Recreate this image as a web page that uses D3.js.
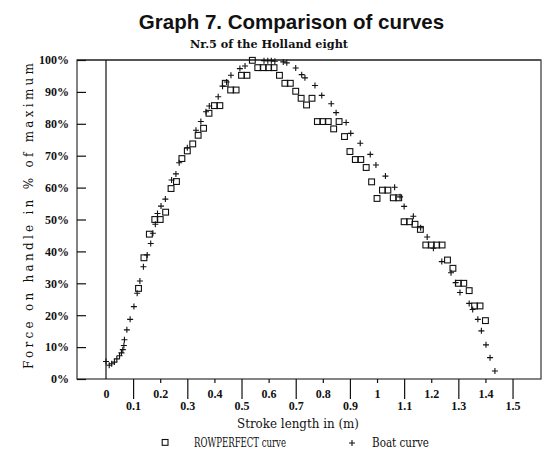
<!DOCTYPE html>
<html>
<head>
<meta charset="utf-8">
<script src="https://cdnjs.cloudflare.com/ajax/libs/d3/7.8.5/d3.min.js"></script>
<style>
  body { margin: 0; background: #fff; }
  svg { display: block; }
  .tick text { font-family: "Liberation Serif", serif; font-size: 12px; font-weight: bold; fill: #111; }
  .tick line { stroke: #111; }
  .mono { font-family: "DejaVu Serif", serif; fill: #111; }
</style>
</head>
<body>
<svg id="chart" width="551" height="458"></svg>
<script>
// ROWPERFECT curve: stroke length (m) and force in % of maximum
const rpLength = [0.12, 0.14, 0.16, 0.18, 0.20, 0.22, 0.24, 0.26, 0.28, 0.30,
  0.32, 0.34, 0.36, 0.38, 0.40, 0.42, 0.44, 0.46, 0.48, 0.50,
  0.52, 0.54, 0.56, 0.58, 0.60, 0.62, 0.64, 0.66, 0.68, 0.70,
  0.72, 0.74, 0.76, 0.78, 0.80, 0.82, 0.84, 0.86, 0.88, 0.90,
  0.92, 0.94, 0.96, 0.98, 1.00, 1.02, 1.04, 1.06, 1.08, 1.10,
  1.12, 1.14, 1.16, 1.18, 1.20, 1.22, 1.24, 1.26, 1.28, 1.30,
  1.32, 1.34, 1.36, 1.38, 1.40];
const rpForce = [28.4, 38.0, 45.4, 50.0, 50.0, 52.3, 59.7, 61.9, 69.1, 71.5,
  73.7, 76.4, 78.6, 83.3, 85.7, 85.7, 92.7, 90.6, 90.6, 95.2,
  95.2, 99.9, 97.6, 97.6, 97.6, 97.6, 95.2, 92.7, 92.7, 90.2,
  88.0, 85.9, 88.0, 80.7, 80.7, 80.7, 78.4, 80.7, 76.0, 71.3,
  68.8, 68.8, 66.3, 61.8, 56.6, 59.2, 59.2, 56.8, 56.8, 49.3,
  49.3, 48.5, 46.9, 42.0, 42.0, 42.0, 42.0, 37.3, 34.7, 30.0,
  30.0, 27.7, 22.9, 22.9, 18.3];

// Boat curve
const boatLength = [0.000, 0.012, 0.021, 0.031, 0.040, 0.050, 0.057, 0.062, 0.066, 0.068,
  0.077, 0.089, 0.103, 0.115, 0.125, 0.138, 0.152, 0.165, 0.173, 0.182,
  0.190, 0.203, 0.219, 0.242, 0.258, 0.270, 0.300, 0.332, 0.350, 0.369,
  0.381, 0.414, 0.430, 0.445, 0.461, 0.494, 0.513, 0.583, 0.597, 0.610,
  0.623, 0.654, 0.667, 0.700, 0.722, 0.734, 0.771, 0.796, 0.831, 0.849,
  0.886, 0.903, 0.938, 0.975, 0.996, 1.031, 1.065, 1.085, 1.100, 1.134,
  1.161, 1.185, 1.208, 1.239, 1.273, 1.290, 1.306, 1.340, 1.353, 1.372,
  1.385, 1.402, 1.417, 1.435];
const boatForce = [5.5, 4.3, 4.8, 5.3, 6.3, 7.3, 8.2, 9.2, 10.5, 12.3,
  15.4, 18.7, 22.7, 26.9, 30.7, 35.2, 38.9, 42.5, 45.7, 48.5,
  51.9, 54.2, 56.4, 62.4, 64.3, 67.8, 72.5, 78.0, 80.7, 83.8,
  85.6, 88.5, 91.8, 93.1, 95.2, 97.3, 98.1, 99.8, 99.8, 99.8,
  99.6, 99.4, 99.1, 97.5, 95.4, 94.4, 92.0, 88.9, 86.3, 83.5,
  80.4, 77.0, 73.9, 70.4, 67.1, 63.6, 60.1, 57.1, 54.1, 51.0,
  47.4, 44.5, 41.0, 36.8, 33.3, 30.2, 27.1, 23.7, 21.8, 18.7,
  15.1, 10.7, 6.7, 2.5];

const xTicksUpper = [0, 0.2, 0.4, 0.6, 0.8, 1, 1.2, 1.4];
const xTicksLower = [0.1, 0.3, 0.5, 0.7, 0.9, 1.1, 1.3, 1.5];
const yTicks = [0, 10, 20, 30, 40, 50, 60, 70, 80, 90, 100];

const svg = d3.select("#chart");

const FRAME = { left: 77, right: 541, top: 60, bottom: 379 };

const x = d3.scaleLinear()
  .domain([-0.107, 1.605])
  .range([FRAME.left, FRAME.right]);

const y = d3.scaleLinear()
  .domain([0, 100])
  .range([FRAME.bottom, FRAME.top]);

// title + subtitle
svg.append("text")
  .attr("x", 291.5).attr("y", 29)
  .attr("text-anchor", "middle")
  .style("font-family", "'Liberation Sans', Arial, sans-serif")
  .style("font-weight", "bold")
  .style("font-size", "20.5px")
  .style("fill", "#111")
  .text("Graph 7. Comparison of curves");

svg.append("text")
  .attr("class", "mono")
  .attr("x", 190).attr("y", 48)
  .attr("textLength", 158)
  .attr("lengthAdjust", "spacingAndGlyphs")
  .style("font-size", "11px")
  .style("font-weight", "bold")
  .text("Nr.5 of the Holland eight");

// frame
svg.append("rect")
  .attr("x", FRAME.left).attr("y", FRAME.top)
  .attr("width", FRAME.right - FRAME.left)
  .attr("height", FRAME.bottom - FRAME.top)
  .attr("fill", "none")
  .attr("stroke", "#333")
  .attr("stroke-width", 1.2);

svg.append("line")
  .attr("x1", FRAME.left).attr("x2", FRAME.right)
  .attr("y1", FRAME.top).attr("y2", FRAME.top)
  .attr("stroke", "#555").attr("stroke-width", 2.2);

// zero line
svg.append("line")
  .attr("x1", x(0)).attr("x2", x(0))
  .attr("y1", FRAME.top).attr("y2", FRAME.bottom)
  .attr("stroke", "#111").attr("stroke-width", 1.2);

// y axis, ticks pointing inwards
const yAxis = svg.append("g")
  .attr("transform", `translate(${FRAME.left},0)`)
  .call(d3.axisLeft(y)
    .tickValues(yTicks)
    .tickSizeInner(-9)
    .tickSizeOuter(0)
    .tickPadding(8)
    .tickFormat(d => d + "%"));
yAxis.select(".domain").remove();

// x axis: long ticks with labels on lower row, short ticks with labels on upper row
const xLower = svg.append("g")
  .attr("transform", `translate(0,${FRAME.bottom})`)
  .call(d3.axisBottom(x)
    .tickValues(xTicksLower)
    .tickSizeInner(20)
    .tickSizeOuter(0)
    .tickPadding(2)
    .tickFormat(d => String(d)));
xLower.select(".domain").remove();

const xUpper = svg.append("g")
  .attr("transform", `translate(0,${FRAME.bottom})`)
  .call(d3.axisBottom(x)
    .tickValues(xTicksUpper)
    .tickSizeInner(4)
    .tickSizeOuter(0)
    .tickPadding(6)
    .tickFormat(d => String(d)));
xUpper.select(".domain").remove();
xUpper.selectAll(".tick line").filter(d => d === 0).remove();

svg.selectAll(".tick line").attr("stroke-width", 1.2);

// axis titles
svg.append("text")
  .attr("class", "mono")
  .attr("transform", "translate(33,216) rotate(-90)")
  .attr("text-anchor", "middle")
  .attr("textLength", 306)
  .style("font-size", "12px")
  .text("Force on handle in % of maximum");

svg.append("text")
  .attr("class", "mono")
  .attr("x", 237).attr("y", 428)
  .attr("textLength", 122)
  .attr("lengthAdjust", "spacingAndGlyphs")
  .style("font-size", "12px")
  .text("Stroke length in (m)");

// series
const rpData = rpLength.map((d, i) => ({ len: d, force: rpForce[i] }));
const boatData = boatLength.map((d, i) => ({ len: d, force: boatForce[i] }));

const SQ = 5.8;
const plus = "M-3,0H3M0,-3V3";

svg.append("g")
  .selectAll("rect")
  .data(rpData)
  .enter()
  .append("rect")
  .attr("x", d => x(d.len) - SQ / 2)
  .attr("y", d => y(d.force) - SQ / 2)
  .attr("width", SQ)
  .attr("height", SQ)
  .attr("fill", "none")
  .attr("stroke", "#111")
  .attr("stroke-width", 1.1);

svg.append("g")
  .selectAll("path")
  .data(boatData)
  .enter()
  .append("path")
  .attr("transform", d => `translate(${x(d.len)},${y(d.force)})`)
  .attr("d", plus)
  .attr("stroke", "#111")
  .attr("stroke-width", 1.1);

// legend
const legend = svg.append("g").attr("transform", "translate(0,443)");

legend.append("rect")
  .attr("x", 165 - 2.8).attr("y", -3.5)
  .attr("width", SQ).attr("height", SQ)
  .attr("fill", "none").attr("stroke", "#111").attr("stroke-width", 1.1);

legend.append("text")
  .attr("class", "mono")
  .attr("x", 194).attr("y", 4)
  .attr("textLength", 92)
  .attr("lengthAdjust", "spacingAndGlyphs")
  .style("font-size", "12px")
  .text("ROWPERFECT curve");

legend.append("path")
  .attr("transform", "translate(352,0)")
  .attr("d", plus)
  .attr("stroke", "#111").attr("stroke-width", 1.1);

legend.append("text")
  .attr("class", "mono")
  .attr("x", 372).attr("y", 4)
  .attr("textLength", 57)
  .attr("lengthAdjust", "spacingAndGlyphs")
  .style("font-size", "12px")
  .text("Boat curve");
</script>
</body>
</html>
